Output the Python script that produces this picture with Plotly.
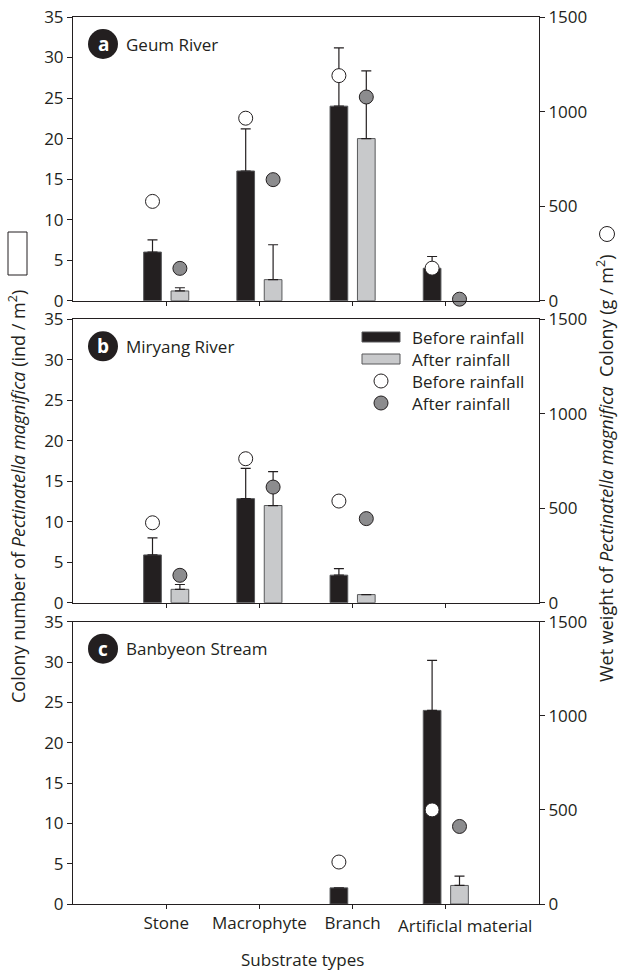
import plotly.graph_objects as go
import numpy as np

# ---------------- data ----------------
categories = ["Stone", "Macrophyte", "Branch", "Artificlal material"]
panel_letters = ["a", "b", "c"]
panel_names = ["Geum River", "Miryang River", "Banbyeon Stream"]

# colony number (ind / m2), bars, left axis
colony_before_a = [6.0, 16.0, 24.0, 4.0]
colony_before_se_a = [1.5, 5.2, 7.2, 1.45]
colony_after_a = [1.2, 2.6, 20.0, None]
colony_after_se_a = [0.4, 4.3, 8.35, None]

colony_before_b = [5.9, 12.85, 3.4, None]
colony_before_se_b = [2.1, 3.75, 0.8, None]
colony_after_b = [1.65, 12.0, 1.0, None]
colony_after_se_b = [0.6, 4.2, None, None]

colony_before_c = [None, None, 2.0, 24.0]
colony_before_se_c = [None, None, None, 6.2]
colony_after_c = [None, None, None, 2.3]
colony_after_se_c = [None, None, None, 1.15]

# wet weight (g / m2), circles, right axis
weight_before_a = [525, 965, 1190, 172]
weight_after_a = [171, 640, 1077, 8]
weight_before_b = [423, 762, 538, None]
weight_after_b = [145, 612, 445, None]
weight_before_c = [None, None, 223, 500]
weight_after_c = [None, None, None, 412]

colony_ticks = [0, 5, 10, 15, 20, 25, 30, 35]
weight_ticks = [0, 500, 1000, 1500]

panels = [
    (colony_before_a, colony_before_se_a, colony_after_a, colony_after_se_a, weight_before_a, weight_after_a),
    (colony_before_b, colony_before_se_b, colony_after_b, colony_after_se_b, weight_before_b, weight_after_b),
    (colony_before_c, colony_before_se_c, colony_after_c, colony_after_se_c, weight_before_c, weight_after_c),
]

# ---------------- style ----------------
INK = "#231f20"
BLACK_BAR = "#231f20"
GRAY_BAR = "#c8c9cb"
BAR_EDGE = "#58595b"
GRAY_DOT = "#8c8c8e"
FONT = "Open Sans"
FS = 17
FS_TITLE = 18

W, H = 619, 973
ML, MR, MT, MB = 73, 80, 17, 69
plot_h = H - MT - MB
pw = W - ML - MR
panel_px = [(17, 300.7), (319.3, 602.7), (621.7, 904)]


def ydom(top, bot):
    lo = max(0.0, 1 - (bot - MT) / plot_h)
    hi = min(1.0, 1 - (top - MT) / plot_h)
    return [lo, hi]


xpos = np.arange(len(categories))
BW = 0.19
OFF = 0.147

fig = go.Figure()
layout = dict(
    width=W, height=H,
    margin=dict(l=ML, r=MR, t=MT, b=MB, autoexpand=False),
    paper_bgcolor="white", plot_bgcolor="white",
    font=dict(family=FONT, size=FS, color=INK),
    showlegend=False,
    barmode="overlay",
)

shapes = []
annotations = []

for i, (cb, cbse, ca, case, wb, wa) in enumerate(panels):
    n = i + 1
    xa = "x" if n == 1 else f"x{n}"
    yl_idx = 2 * i + 1
    yr_idx = 2 * i + 2
    yl = "y" if yl_idx == 1 else f"y{yl_idx}"
    yr = f"y{yr_idx}"

    def errs(se):
        return [0 if v is None else v for v in se]

    fig.add_trace(go.Bar(
        x=xpos, y=cb, width=BW, offset=-OFF - BW / 2,
        marker=dict(color=BLACK_BAR, line=dict(color=BAR_EDGE, width=1)),
        error_y=dict(type="data", symmetric=False, array=errs(cbse),
                     arrayminus=[0] * 4, color=INK, thickness=1.2, width=5),
        xaxis=xa, yaxis=yl, name="Before rainfall"))
    fig.add_trace(go.Bar(
        x=xpos, y=ca, width=BW, offset=OFF - BW / 2,
        marker=dict(color=GRAY_BAR, line=dict(color=BAR_EDGE, width=1)),
        error_y=dict(type="data", symmetric=False, array=errs(case),
                     arrayminus=[0] * 4, color=INK, thickness=1.2, width=5),
        xaxis=xa, yaxis=yl, name="After rainfall"))
    fig.add_trace(go.Scatter(
        x=xpos - OFF, y=wb, mode="markers", cliponaxis=False,
        marker=dict(size=14, color="white", line=dict(color=INK, width=1)),
        xaxis=xa, yaxis=yr, name="Before rainfall"))
    fig.add_trace(go.Scatter(
        x=xpos + OFF, y=wa, mode="markers", cliponaxis=False,
        marker=dict(size=14, color=GRAY_DOT, line=dict(color=INK, width=1)),
        xaxis=xa, yaxis=yr, name="After rainfall"))

    dom = ydom(*panel_px[i])
    xkey = "xaxis" if n == 1 else f"xaxis{n}"
    ylkey = "yaxis" if yl_idx == 1 else f"yaxis{yl_idx}"
    yrkey = f"yaxis{yr_idx}"
    layout[xkey] = dict(
        domain=[0, 1], anchor=yl, range=[-1, 4],
        tickvals=list(xpos), ticktext=categories[:3] + [""],
        showticklabels=(n == 3),
        tickangle=0, automargin=False,
        ticks="outside", ticklen=4, tickcolor=INK,
        showline=True, linecolor=INK, linewidth=1, mirror=True,
        showgrid=False, zeroline=False,
        tickfont=dict(size=FS, family=FONT, color=INK),
    )
    layout[ylkey] = dict(
        domain=dom, anchor=xa, range=[0, 35], tickvals=colony_ticks,
        automargin=False,
        ticks="outside", ticklen=5, tickcolor=INK,
        showline=True, linecolor=INK, linewidth=1,
        showgrid=False, zeroline=False,
        tickfont=dict(size=FS, family=FONT, color=INK),
    )
    layout[yrkey] = dict(
        domain=dom, anchor=xa, overlaying=yl, side="right",
        range=[0, 1500], tickvals=weight_ticks, automargin=False,
        ticks="outside", ticklen=5, tickcolor=INK,
        showline=True, linecolor=INK, linewidth=1,
        showgrid=False, zeroline=False,
        tickfont=dict(size=FS, family=FONT, color=INK),
    )

    # panel label: black disc with white letter + site name
    cx, cy = (103 - ML) / pw, 1 - 27 / (panel_px[i][1] - panel_px[i][0])
    shapes.append(dict(type="circle", xref=f"{xa} domain", yref=f"{yl} domain",
                       xsizemode="pixel", ysizemode="pixel", xanchor=cx, yanchor=cy,
                       x0=-15, x1=15, y0=-15, y1=15,
                       fillcolor=INK, line=dict(color=INK, width=0)))
    annotations.append(dict(text=f"<b>{panel_letters[i]}</b>", xref=f"{xa} domain", yref=f"{yl} domain",
                            x=cx, y=cy, showarrow=False, xanchor="center", yanchor="middle",
                            font=dict(color="white", size=19, family=FONT)))
    annotations.append(dict(text=panel_names[i], xref=f"{xa} domain", yref=f"{yl} domain",
                            x=(124 - ML) / pw, y=cy, showarrow=False,
                            xanchor="left", yanchor="middle",
                            font=dict(color=INK, size=FS, family=FONT)))

# last category label sits a little right of its tick (as in the original)
annotations.append(dict(text=categories[3], xref="x3", yref="y5 domain",
                        x=xpos[3], y=0, xshift=19, yshift=-21,
                        showarrow=False, xanchor="center", yanchor="middle",
                        font=dict(color=INK, size=FS, family=FONT)))

# ---------------- manual legend in panel b ----------------
pb_top, pb_bot = panel_px[1]
ph = pb_bot - pb_top


def lx(px):
    return (px - ML) / pw


def ly(py):
    return (pb_bot - py) / ph


shapes.append(dict(type="rect", xref="x2 domain", yref="y3 domain",
                   x0=lx(362), x1=lx(400), y0=ly(342), y1=ly(332),
                   fillcolor=BLACK_BAR, line=dict(color=BAR_EDGE, width=1)))
shapes.append(dict(type="rect", xref="x2 domain", yref="y3 domain",
                   x0=lx(362), x1=lx(400), y0=ly(364), y1=ly(354),
                   fillcolor=GRAY_BAR, line=dict(color=BAR_EDGE, width=1)))
for py, col in [(381, "white"), (403, GRAY_DOT)]:
    shapes.append(dict(type="circle", xref="x2 domain", yref="y3 domain",
                       xsizemode="pixel", ysizemode="pixel", xanchor=lx(381), yanchor=ly(py),
                       x0=-7, x1=7, y0=-7, y1=7,
                       fillcolor=col, line=dict(color=INK, width=1)))
for py, txt in [(337, "Before rainfall"), (359, "After rainfall"),
                (381, "Before rainfall"), (403, "After rainfall")]:
    annotations.append(dict(text=txt, xref="x2 domain", yref="y3 domain",
                            x=lx(410), y=ly(py), showarrow=False,
                            xanchor="left", yanchor="middle",
                            font=dict(color=INK, size=FS, family=FONT)))

# ---------------- axis titles ----------------


def px_to_paper_y(py):
    return (H - MB - py) / plot_h


annotations.append(dict(
    text="Colony number of <i>Pectinatella magnifica</i> (ind / m<sup>2</sup>)",
    xref="paper", yref="paper", x=(17 - ML) / pw, y=px_to_paper_y(497),
    textangle=-90, showarrow=False, xanchor="center", yanchor="middle",
    font=dict(color=INK, size=FS_TITLE, family=FONT)))
shapes.append(dict(type="rect", xref="paper", yref="paper",
                   x0=(8 - ML) / pw, x1=(27 - ML) / pw,
                   y0=px_to_paper_y(275), y1=px_to_paper_y(232),
                   fillcolor="white", line=dict(color=INK, width=1)))
annotations.append(dict(
    text="Wet weight of <i>Pectinatella magnifica</i>\u00a0 Colony (g / m<sup>2</sup>)",
    xref="paper", yref="paper", x=(605 - ML) / pw, y=px_to_paper_y(468),
    textangle=-90, showarrow=False, xanchor="center", yanchor="middle",
    font=dict(color=INK, size=FS_TITLE, family=FONT)))
shapes.append(dict(type="circle", xref="paper", yref="paper",
                   xsizemode="pixel", ysizemode="pixel",
                   xanchor=(607 - ML) / pw, yanchor=px_to_paper_y(234),
                   x0=-7.5, x1=7.5, y0=-7.5, y1=7.5,
                   fillcolor="white", line=dict(color=INK, width=1)))
annotations.append(dict(
    text="Substrate types", xref="paper", yref="paper",
    x=(302 - ML) / pw, y=px_to_paper_y(960), showarrow=False,
    xanchor="center", yanchor="middle",
    font=dict(color=INK, size=FS, family=FONT)))

layout["shapes"] = shapes
layout["annotations"] = annotations
fig.update_layout(**layout)

fig.write_html("out.html",
               config={"displayModeBar": False},
               post_script="document.body.style.margin='0';document.body.style.padding='0';")
